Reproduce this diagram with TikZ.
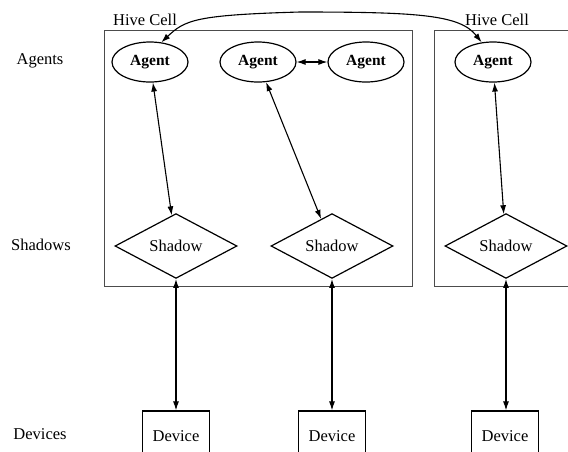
\documentclass[tikz,border=0pt]{standalone}
\usepackage{fontspec}
\setmainfont{Liberation Serif}
\usetikzlibrary{shapes.geometric, arrows.meta}

\begin{document}
\begin{tikzpicture}[x=1pt, y=-1pt,
    agent/.style={draw, line width=1.2pt, ellipse, minimum width=76pt, minimum height=40pt, inner sep=0pt, font=\fontsize{15.5}{18}\selectfont\bfseries},
    shadow/.style={draw, line width=1.2pt, diamond, minimum width=122pt, minimum height=58pt, inner sep=0pt, font=\fontsize{16.5}{19}\selectfont},
    device/.style={draw, line width=1.2pt, rectangle, minimum width=67pt, minimum height=50pt, inner sep=0pt, font=\fontsize{16.5}{19}\selectfont},
    rowlabel/.style={font=\fontsize{16.5}{19}\selectfont},
    link/.style={line width=1.1pt, {Latex[length=9pt,width=6pt]}-{Latex[length=9pt,width=6pt]}}]
  %tikz  Hive cells, agents, shadows and devices
    \clip (0,0) rectangle (568,451);
    % hive cell frames
    \draw[gray!60!black, line width=0.8pt] (104,30) rectangle (412,286);
    \draw[gray!60!black, line width=0.8pt] (434,30) rectangle (590,286);
    \node[rowlabel] (cellA) at (145,20) {Hive Cell};
    \node[rowlabel] (cellB) at (497,20) {Hive Cell};
    % row labels
    \node[rowlabel] (lagents) at (40,61) {Agents};
    \node[rowlabel] (lshadows) at (41,245) {Shadows};
    \node[rowlabel] (ldevices) at (40,434) {Devices};
    % agents
    \node[agent] (agentA) at (150,62) {Agent};
    \node[agent] (agentB) at (258,62) {Agent};
    \node[agent] (agentC) at (366,62) {Agent};
    \node[agent] (agentD) at (493,62) {Agent};
    % shadows
    \node[shadow] (shadowA) at (176,246) {Shadow};
    \node[shadow] (shadowB) at (332,246) {Shadow};
    \node[shadow] (shadowD) at (506,246) {Shadow};
    % devices
    \node[device] (deviceA) at (176,436) {Device};
    \node[device] (deviceB) at (332,436) {Device};
    \node[device] (deviceD) at (505,436) {Device};
    % links
    \draw[link] (agentA) -- (shadowA);
    \draw[link] (agentB) -- (shadowB);
    \draw[link] (agentD) -- (shadowD);
    \draw[link] (agentB) -- (agentC);
    \draw[link] (shadowA) -- (deviceA);
    \draw[link] (shadowB) -- (deviceB);
    \draw[link] (shadowD.south) -- (deviceD.north -| shadowD.south);
    \draw[link] (agentA.60) .. controls (185,20) and (195,15) .. (300,12)
        .. controls (420,12) and (460,15) .. (agentD.120);
\end{tikzpicture}
\end{document}
